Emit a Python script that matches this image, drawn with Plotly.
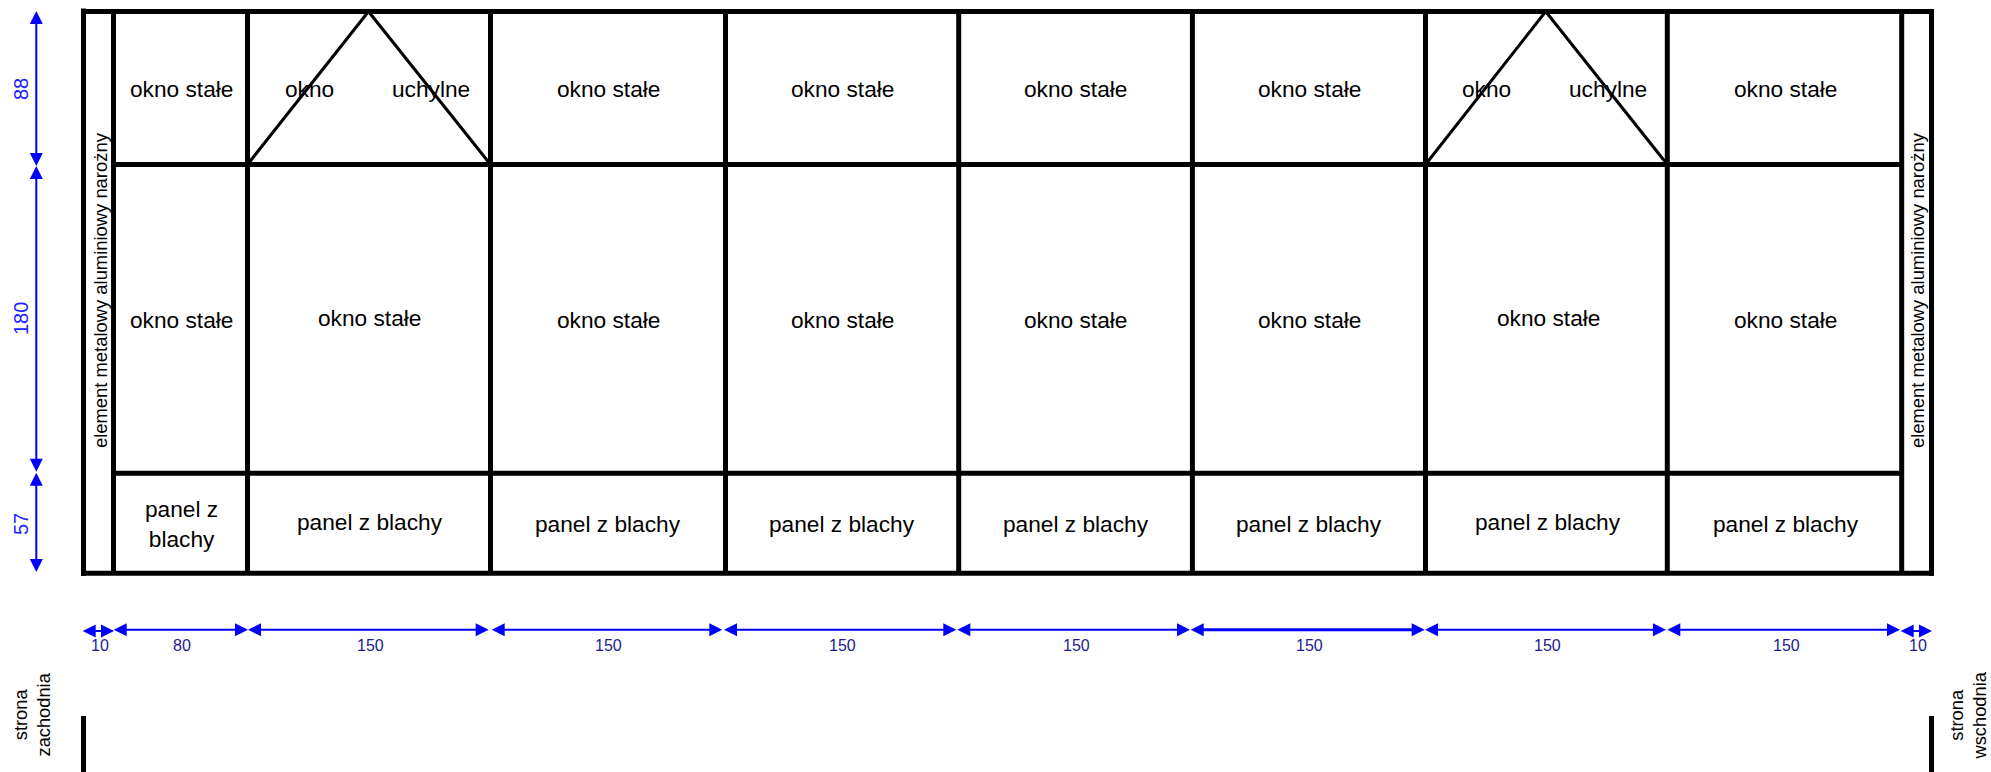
import plotly.graph_objects as go

# ---- structure (drawing units of the elevation sheet) ----
column_edges = [113.5, 247.5, 490.5, 725.5, 958.7, 1192.4, 1425.5, 1667.3, 1901.7]
outer_left, outer_right = 83.5, 1931.5
row_edges = [11.5, 164.5, 473.3, 573.3]
tilt_windows = [(247.5, 368.5, 490.5), (1425.5, 1545.7, 1667.3)]
ground_marks = [83.5, 1931.5]
ground_top, ground_bottom = 716, 772

# ---- dimensions ----
h_dim_labels = ["10", "80", "150", "150", "150", "150", "150", "150", "150", "10"]
h_dim_start = [82.7, 113.7, 248, 491.7, 724, 957.3, 1190.7, 1425, 1667.3, 1900.7]
h_dim_end = [114, 248, 488.7, 722.3, 956.3, 1190, 1424.7, 1666, 1900, 1932]
h_dim_y = [631, 629.7, 629.7, 629.7, 629.7, 629.7, 629.7, 629.7, 629.7, 631]
h_dim_width = [2, 2, 2, 2, 2, 2, 3, 2, 2, 2]
h_label_x = [99.7, 181.7, 370, 608.3, 842.3, 1076, 1309.7, 1547.3, 1786, 1918.3]
h_label_y = [645, 645, 645, 645.7, 645.7, 645.7, 645.7, 645, 645.7, 645.7]

v_dim_labels = ["88", "180", "57"]
v_dim_start = [11, 166, 472.7]
v_dim_end = [166, 471.7, 572]
v_dim_x = 36.3
v_label_x = 21
v_label_y = [89, 319, 524]

# ---- texts ----
cell_labels = ["okno stałe", "okno", "uchylne", "okno stałe", "okno stałe", "okno stałe", "okno stałe",
               "okno", "uchylne", "okno stałe",
               "okno stałe", "okno stałe", "okno stałe", "okno stałe", "okno stałe", "okno stałe", "okno stałe", "okno stałe",
               "panel z<br>blachy", "panel z blachy", "panel z blachy", "panel z blachy", "panel z blachy", "panel z blachy", "panel z blachy", "panel z blachy"]
cell_x = [181.7, 309.3, 431, 608, 842, 1075.6, 1309, 1486.7, 1608.3, 1785.6,
          181.7, 369.6, 608, 842, 1075.6, 1309, 1548, 1785.6,
          181.7, 370, 608, 842, 1075.6, 1309, 1548, 1785.6]
cell_y = [89, 89, 89, 89, 89, 89, 89, 89, 89, 89,
          320, 317.5, 320, 320, 320, 320, 317.5, 320,
          524, 521.7, 524, 524, 524, 524, 522, 524]
side_labels = ["element metalowy aluminiowy narożny"] * 2
side_x = [100, 1917]
side_y = [290, 290]
compass_labels = ["strona<br>zachodnia", "strona<br>wschodnia"]
compass_x = [31.5, 1968]
compass_y = [715, 715.5]

BLUE = "#0000ff"
HEAD_LEN, HEAD_HALF = 13, 6.5
PAGE_W, PAGE_H = 1991, 772

fig = go.Figure()


def add_line(xs, ys, color="black", width=5):
    fig.add_trace(go.Scatter(x=xs, y=ys, mode="lines", line=dict(color=color, width=width),
                             hoverinfo="skip", showlegend=False))


def add_head(tip_x, tip_y, dx, dy):
    # (dx, dy) points from the base of the head to its tip
    bx, by = tip_x - dx * HEAD_LEN, tip_y - dy * HEAD_LEN
    px, py = -dy * HEAD_HALF, dx * HEAD_HALF
    fig.add_trace(go.Scatter(x=[tip_x, bx + px, bx - px, tip_x], y=[tip_y, by + py, by - py, tip_y],
                             mode="lines", fill="toself", fillcolor=BLUE, line=dict(width=0),
                             hoverinfo="skip", showlegend=False))


# frame
top, bottom = row_edges[0], row_edges[-1]
add_line([outer_left, outer_left], [top - 3, bottom + 2.5])
add_line([outer_right, outer_right], [top - 2.5, bottom + 2.5])
add_line([outer_left - 2.5, outer_right + 2.5], [top, top])
add_line([outer_left - 2.5, outer_right + 2.5], [bottom, bottom])

# inner grid
for x in column_edges:
    add_line([x, x], [top, bottom])
for y in row_edges[1:-1]:
    add_line([column_edges[0], column_edges[-1]], [y, y])

# tilt-window triangles
for a, b, c in tilt_windows:
    add_line([a, b, c], [row_edges[1], row_edges[0], row_edges[1]], width=3)

# ground marks
for x in ground_marks:
    add_line([x, x], [ground_top, ground_bottom])

# horizontal dimensions
for a, b, y, w in zip(h_dim_start, h_dim_end, h_dim_y, h_dim_width):
    add_line([a + 6, b - 6], [y, y], color=BLUE, width=w)
    add_head(a, y, -1, 0)
    add_head(b, y, 1, 0)

# vertical dimensions
for a, b in zip(v_dim_start, v_dim_end):
    add_line([v_dim_x, v_dim_x], [a + 6, b - 6], color=BLUE, width=2)
    add_head(v_dim_x, a, 0, -1)
    add_head(v_dim_x, b, 0, 1)


def add_text(text, x, y, family, size, color="black", angle=0):
    fig.add_annotation(x=x, y=y, xref="x", yref="y", text=text, showarrow=False, textangle=angle,
                       xanchor="center", yanchor="middle", align="center",
                       font=dict(family=family, size=size, color=color))


SANS = "Liberation Sans, Arial, sans-serif"
for t, x, y in zip(cell_labels, cell_x, cell_y):
    add_text(t, x, y, SANS, 22.7)
for t, x, y in zip(side_labels, side_x, side_y):
    add_text(t, x, y, SANS, 18.4, angle=-90)
for t, x, y in zip(compass_labels, compass_x, compass_y):
    add_text(t, x, y, SANS, 18.3, angle=-90)
for t, x, y in zip(h_dim_labels, h_label_x, h_label_y):
    add_text(t, x, y, SANS, 16, color="#1c1c90")
for t, y in zip(v_dim_labels, v_label_y):
    add_text(t, v_label_x, y, SANS, 20, color="#2222ff", angle=-90)

fig.update_layout(
    width=PAGE_W, height=PAGE_H, autosize=False,
    margin=dict(l=0, r=0, t=0, b=0),
    paper_bgcolor="white", plot_bgcolor="white",
    showlegend=False, hovermode=False,
    xaxis=dict(range=[0, PAGE_W], visible=False, fixedrange=True),
    yaxis=dict(range=[PAGE_H, 0], visible=False, fixedrange=True),
)
fig.write_html("out.html", config={"displayModeBar": False},
               post_script="document.body.style.margin='0';document.body.style.overflow='hidden';")
